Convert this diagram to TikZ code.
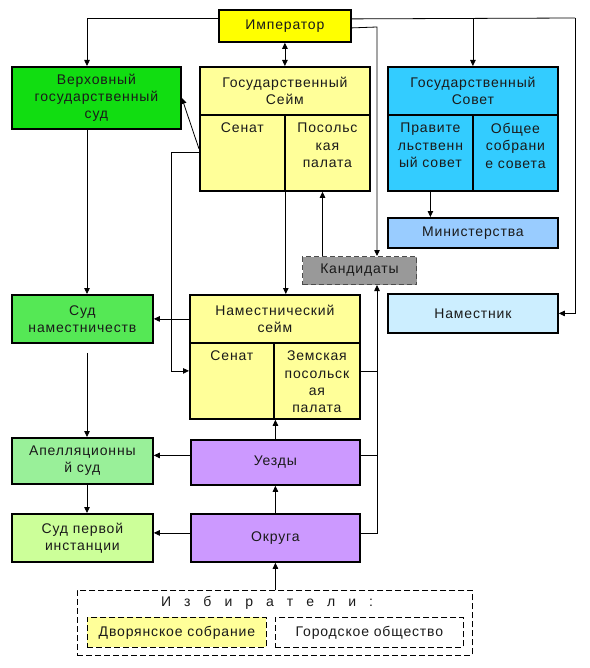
\documentclass[tikz,border=0pt]{standalone}
\usepackage{fontspec}
\setmainfont[LetterSpace=6]{Liberation Sans}
\usetikzlibrary{arrows.meta,calc}
\definecolor{cImp}{HTML}{FFFF00}
\definecolor{cVS}{HTML}{11DD11}
\definecolor{cSN}{HTML}{55E855}
\definecolor{cAp}{HTML}{99F099}
\definecolor{cSP}{HTML}{CCFF99}
\definecolor{cSejm}{HTML}{FFFF99}
\definecolor{cSov}{HTML}{33CCFF}
\definecolor{cMin}{HTML}{99CCFF}
\definecolor{cNam}{HTML}{CCEEFF}
\definecolor{cKand}{HTML}{999999}
\definecolor{cUezd}{HTML}{CC99FF}
\definecolor{cTxt}{HTML}{1A1A1A}
\begin{document}
\begin{tikzpicture}[x=1pt,y=-1pt,
  fnt/.style={font=\fontsize{14pt}{17.3pt}\selectfont},
  box/.style={draw=black,line width=1.8pt,inner sep=0pt,align=center,anchor=north west,text=cTxt,fnt},
  txt/.style={inner sep=0pt,align=center,anchor=north,text=cTxt,fnt},
  ln/.style={line width=0.8pt},
  arr/.style={line width=0.8pt,-{Triangle[length=6pt,width=5.5pt]}},
  darr/.style={line width=0.8pt,{Triangle[length=6pt,width=5.5pt]}-{Triangle[length=6pt,width=5.5pt]}},
  dbox/.style={draw=black,line width=0.8pt,dash pattern=on 6pt off 3pt,inner sep=0pt,anchor=north west,text=cTxt,fnt}
]
\useasboundingbox (0,0) rectangle (589,668);

% ---------- boxes ----------
\node[box,fill=cImp,minimum width=132pt,minimum height=32pt] (imp) at (218,9) {Император};

\node[box,fill=cVS,minimum width=169pt,minimum height=62pt] (vs) at (11,66) {Верховный\\государственный\\суд};

\node[box,fill=cSejm,minimum width=170pt,minimum height=48pt] (sejm) at (199,66) {Государственный\\Сейм};
\node[box,fill=cSejm,minimum width=85pt,minimum height=76pt] (senat1) at (199,114) {};
\node[box,fill=cSejm,minimum width=85pt,minimum height=76pt] (posol1) at (284,114) {};
\node[txt] (senat1t) at ([yshift=-9pt]senat1.north) {Сенат};
\node[txt] (posol1t) at ([yshift=-9pt]posol1.north) {Посольс\\кая\\палата};

\node[box,fill=cSov,minimum width=170pt,minimum height=48pt] (sov) at (387,66) {Государственный\\Совет};
\node[box,fill=cSov,minimum width=85pt,minimum height=76pt] (prav) at (387,114) {};
\node[box,fill=cSov,minimum width=85pt,minimum height=76pt] (obsh) at (472,114) {};
\node[txt] (pravt) at ([yshift=-9pt]prav.north) {Правите\\льственн\\ый совет};
\node[txt] (obsht) at ([yshift=-9pt]obsh.north) {Общее\\собрани\\е совета};

\node[box,fill=cMin,minimum width=170pt,minimum height=30pt] (min) at (387,217) {Министерства};

\node[box,fill=cKand,draw=black!70,line width=1pt,dash pattern=on 5pt off 3pt,minimum width=114pt,minimum height=28pt] (kand) at (302,256) {Кандидаты};

\node[box,fill=cNam,minimum width=170pt,minimum height=39pt] (nam) at (387,293) {Наместник};

\node[box,fill=cSN,minimum width=141pt,minimum height=48pt] (sn) at (11,294) {Суд\\наместничеств};

\node[box,fill=cSejm,minimum width=170pt,minimum height=48pt] (nsejm) at (189,294) {Наместнический\\сейм};
\node[box,fill=cSejm,minimum width=84pt,minimum height=76pt] (senat2) at (189,342) {};
\node[box,fill=cSejm,minimum width=86pt,minimum height=76pt] (zem) at (273,342) {};
\node[txt] (senat2t) at ([yshift=-9pt]senat2.north) {Сенат};
\node[txt] (zemt) at ([yshift=-9pt]zem.north) {Земская\\посольск\\ая\\палата};

\node[box,fill=cAp,minimum width=141pt,minimum height=46pt] (ap) at (11,437) {Апелляционны\\й суд};
\node[box,fill=cUezd,minimum width=169pt,minimum height=45pt] (uezd) at (190,439) {Уезды};

\node[box,fill=cSP,minimum width=141pt,minimum height=48pt] (sp) at (11,513) {Суд первой\\инстанции};
\node[box,fill=cUezd,minimum width=169pt,minimum height=48pt] (okr) at (190,513) {Округа};

\node[dbox,minimum width=395pt,minimum height=65pt] (izb) at (77,590) {};
\node[inner sep=0pt,text=cTxt,fnt] (izbt) at (267,603) {И\hspace{13pt}з\hspace{13pt}б\hspace{13pt}и\hspace{13pt}р\hspace{13pt}а\hspace{13pt}т\hspace{13pt}е\hspace{13pt}л\hspace{13pt}и\hspace{13pt}:};
\node[dbox,fill=cSejm,minimum width=179pt,minimum height=30pt] (dvor) at (87,617) {Дворянское собрание};
\node[dbox,fill=white,minimum width=188pt,minimum height=30pt] (gor) at (275,617) {Городское общество};

% ---------- helper coordinates ----------
\coordinate (colL) at (87,0);
\coordinate (rr) at (575,18);
\coordinate (kr) at (377,27);

% ---------- connectors ----------
\draw[arr] ([yshift=7pt]imp.west) -| (vs.north -| colL);
\draw[darr] (imp.south -| sejm.north) -- (sejm.north);
\draw[ln] ([yshift=7pt]imp.east) -- (rr);
\draw[arr] (rr) |- (nam.east);
\draw[arr] (sov.north |- rr) -- (sov.north);
\draw[arr] ([yshift=-2pt]imp.east) -- (kr) -- (kr |- kand.north);
\draw[arr] ([xshift=-37pt]kand.north) -- ([xshift=-37pt]kand.north |- posol1.south);
\draw[arr] (prav.south) -- (prav.south |- min.north);

\draw[arr] ([yshift=4pt]senat1.west) -- (vs.east);
\draw[arr] (senat1.west) -- ++(-28,0) |- ([yshift=10pt]senat2.west);
\draw[arr] (senat1.south east) -- (senat1.south east |- nsejm.north);
\draw[arr] (nsejm.west) -- (sn.east);

\draw[arr] (vs.south -| colL) -- (sn.north -| colL);
\draw[arr,shorten <=9pt] (sn.south -| colL) -- (ap.north -| colL);
\draw[arr] (ap.south -| colL) -- (sp.north -| colL);

\draw[arr] ([yshift=7pt]uezd.west) -- ([yshift=7pt]uezd.west -| ap.east);
\draw[arr] ([yshift=5pt]okr.west) -- ([yshift=5pt]okr.west -| sp.east);
\draw[arr] (uezd.north) -- (uezd.north |- senat2.south);
\draw[arr] (okr.north) -- (uezd.south);
\draw[arr] (izb.north -| okr.south) -- (okr.south);

\draw[arr] ([yshift=5pt]okr.east) -| (kand.south -| kr);
\draw[ln] ([yshift=7pt]uezd.east) -- ([yshift=7pt]uezd.east -| kr);
\draw[ln] ([yshift=10pt]zem.east) -- ([yshift=10pt]zem.east -| kr);
\end{tikzpicture}
\end{document}
